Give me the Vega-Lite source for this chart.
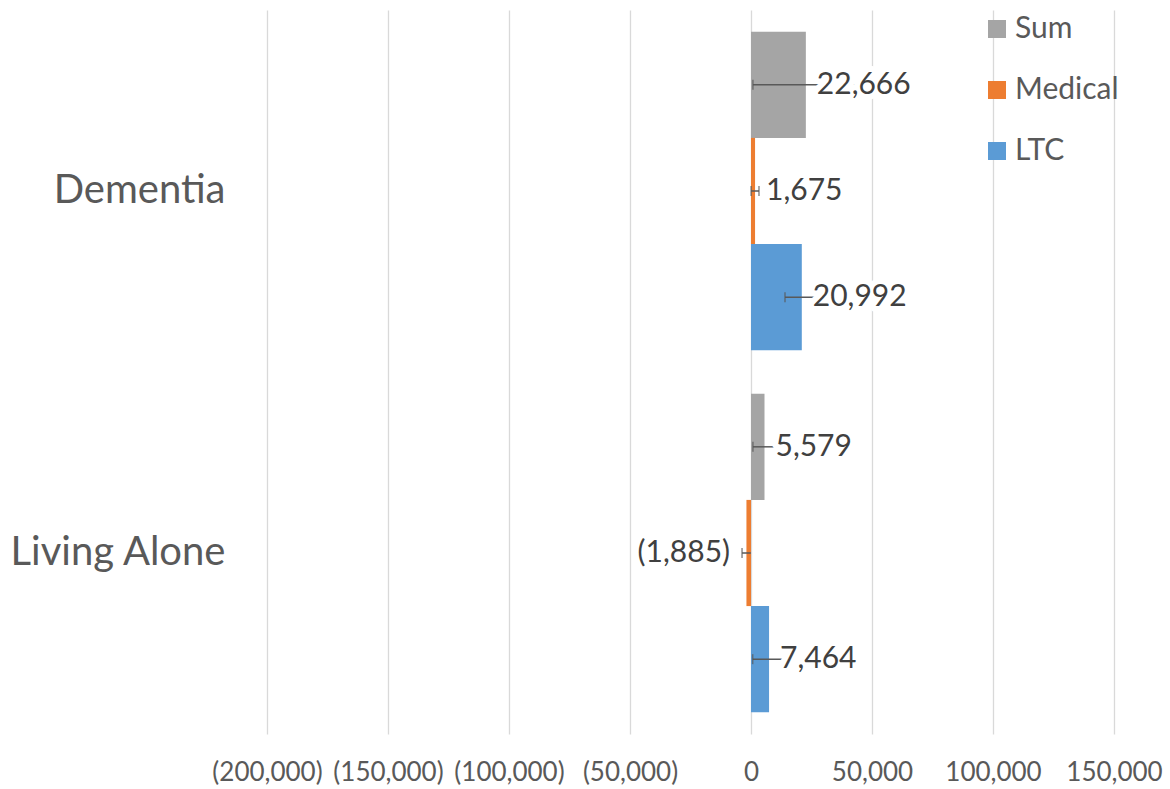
{
  "$schema": "https://vega.github.io/schema/vega-lite/v6.json",
  "autosize": "none",
  "width": 847,
  "height": 724,
  "padding": {"left": 267, "top": 10, "right": 56, "bottom": 55},
  "background": "white",
  "config": {
    "font": "Lato",
    "view": {"stroke": null}
  },
  "data": {
    "values": [
      {"category": "Dementia", "series": "Sum", "value": 22666, "low": 800, "high": 44500},
      {"category": "Dementia", "series": "Medical", "value": 1675, "low": 50, "high": 3300},
      {"category": "Dementia", "series": "LTC", "value": 20992, "low": 14050, "high": 27900},
      {"category": "Living Alone", "series": "Sum", "value": 5579, "low": 800, "high": 10350},
      {"category": "Living Alone", "series": "Medical", "value": -1885, "low": -3700, "high": -70},
      {"category": "Living Alone", "series": "LTC", "value": 7464, "low": 700, "high": 14200}
    ]
  },
  "encoding": {
    "y": {
      "field": "category", "type": "nominal", "sort": ["Dementia", "Living Alone"],
      "scale": {"paddingInner": 0.12, "paddingOuter": 0.06},
      "axis": {"title": null, "domain": false, "ticks": false, "labelFontSize": 40, "labelColor": "#595959", "labelPadding": 42, "labelFont": "Lato", "labelLimit": 400}
    },
    "yOffset": {"field": "series", "type": "nominal", "sort": ["Sum", "Medical", "LTC"], "scale": {"paddingInner": 0, "paddingOuter": 0}}
  },
  "layer": [
    {
      "mark": {"type": "bar", "opacity": 1},
      "encoding": {
        "x": {
          "field": "value", "type": "quantitative",
          "scale": {"domain": [-200000, 150000], "nice": false, "zero": false},
          "axis": {
            "title": null, "values": [-200000, -150000, -100000, -50000, 0, 50000, 100000, 150000],
            "format": "(,.0f", "domain": false, "ticks": false, "grid": true, "labelOverlap": false, "labelFlush": false, "labelBound": false,
            "gridColor": "#D9D9D9", "gridWidth": 1.3, "labelFontSize": 26, "labelColor": "#595959",
            "labelPadding": 25, "labelFont": "Lato"
          }
        },
        "color": {
          "field": "series", "type": "nominal",
          "scale": {"domain": ["Sum", "Medical", "LTC"], "range": ["#A5A5A5", "#ED7D31", "#5B9BD5"]},
          "legend": {
            "title": null, "orient": "none", "legendX": 715, "legendY": 4, "padding": 0,
            "symbolType": "square", "symbolSize": 324, "symbolStrokeWidth": 0, "symbolOpacity": 1,
            "labelFontSize": 30, "labelColor": "#595959", "labelOffset": 3, "rowPadding": 31, "labelFont": "Lato"
          }
        }
      }
    },
    {
      "mark": {"type": "rule", "color": "#595959", "strokeWidth": 1.5},
      "encoding": {
        "x": {"field": "low", "type": "quantitative"},
        "x2": {"field": "high"}
      }
    },
    {
      "mark": {"type": "tick", "color": "#595959", "orient": "vertical", "size": 10, "thickness": 1.5},
      "encoding": {
        "x": {"field": "low", "type": "quantitative"}
      }
    },
    {
      "transform": [{"filter": "datum.series === 'Medical' && datum.value > 0"}],
      "mark": {"type": "tick", "color": "#595959", "orient": "vertical", "size": 10, "thickness": 1.5},
      "encoding": {
        "x": {"field": "high", "type": "quantitative"}
      }
    },
    {
      "transform": [{"filter": "datum.value >= 0"}],
      "mark": {"type": "text", "align": "left", "baseline": "middle", "dx": 11, "fontSize": 30, "color": "white", "stroke": "white", "strokeWidth": 12, "strokeJoin": "round"},
      "encoding": {
        "x": {"field": "value", "type": "quantitative"},
        "text": {"field": "value", "type": "quantitative", "format": "(,.0f"}
      }
    },
    {
      "transform": [{"filter": "datum.value >= 0"}],
      "mark": {"type": "text", "align": "left", "baseline": "middle", "dx": 11, "fontSize": 30, "color": "#404040"},
      "encoding": {
        "x": {"field": "value", "type": "quantitative"},
        "text": {"field": "value", "type": "quantitative", "format": "(,.0f"}
      }
    },
    {
      "transform": [{"filter": "datum.value < 0"}],
      "mark": {"type": "text", "align": "right", "baseline": "middle", "dx": -12, "fontSize": 30, "color": "white", "stroke": "white", "strokeWidth": 12, "strokeJoin": "round"},
      "encoding": {
        "x": {"field": "low", "type": "quantitative"},
        "text": {"field": "value", "type": "quantitative", "format": "(,.0f"}
      }
    },
    {
      "transform": [{"filter": "datum.value < 0"}],
      "mark": {"type": "text", "align": "right", "baseline": "middle", "dx": -12, "fontSize": 30, "color": "#404040"},
      "encoding": {
        "x": {"field": "low", "type": "quantitative"},
        "text": {"field": "value", "type": "quantitative", "format": "(,.0f"}
      }
    }
  ]
}
